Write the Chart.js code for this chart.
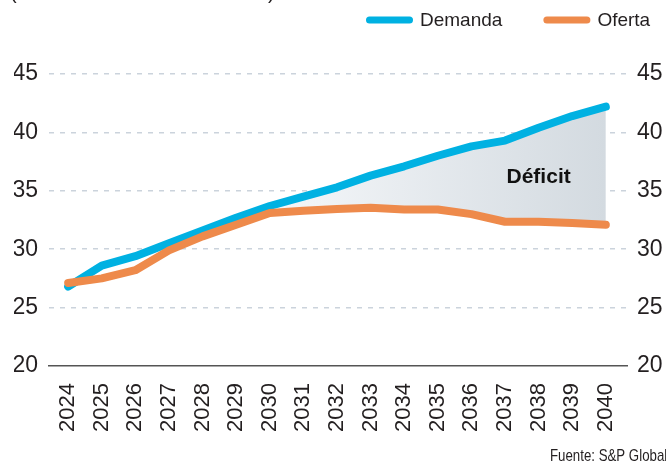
<!DOCTYPE html>
<html lang="es">
<head>
  <meta charset="UTF-8">
  <title>Demanda y oferta</title>
  <script src="https://cdn.jsdelivr.net/npm/chart.js@4.4.1/dist/chart.umd.min.js"></script>
  <style>
    html, body { margin: 0; padding: 0; background: #fff; }
    #wrap { position: relative; width: 666px; height: 467px; overflow: hidden; }
  </style>
</head>
<body>
<div id="wrap"><canvas id="myChart"></canvas></div>

<script>
// datos
const years = [2024, 2025, 2026, 2027, 2028, 2029, 2030, 2031, 2032, 2033, 2034, 2035, 2036, 2037, 2038, 2039, 2040];
const demanda = [26.8, 28.6, 29.4, 30.5, 31.6, 32.7, 33.7, 34.5, 35.3, 36.3, 37.1, 38.0, 38.8, 39.3, 40.4, 41.4, 42.2];
const oferta = [27.1, 27.5, 28.2, 29.9, 31.1, 32.1, 33.1, 33.3, 33.45, 33.55, 33.4, 33.4, 33.0, 32.35, 32.35, 32.25, 32.1];
const yTicks = [20, 25, 30, 35, 40, 45];
const seriesNames = ['Demanda', 'Oferta'];
const seriesColors = ['#00b1e2', '#ee8a4b'];
const deficitLabel = { text: 'Déficit', x: 2038, y: 36.2 };
const source = 'Fuente: S&P Global';

const FONT = '"Liberation Sans", Arial, sans-serif';

// relleno gris que se oscurece hacia la derecha
function deficitFill(context) {
  const chart = context.chart;
  const area = chart.chartArea;
  if (!area) return 'rgba(0,0,0,0)';
  const x = chart.scales.x;
  const g = chart.ctx.createLinearGradient(x.getPixelForValue(2027), 0, x.getPixelForValue(2040), 0);
  g.addColorStop(0, 'rgba(236,240,244,0)');
  g.addColorStop(0.35, 'rgba(240,243,246,1)');
  g.addColorStop(1, 'rgba(211,218,224,1)');
  return g;
}

// leyenda, texto "Deficit" y fuente
const extras = {
  id: 'extras',
  afterDraw(chart) {
    const c = chart.ctx;
    c.save();
    // leyenda arriba a la derecha
    c.font = '19px ' + FONT;
    c.textBaseline = 'middle';
    c.fillStyle = '#231f20';
    let x = 366;
    seriesNames.forEach((name, i) => {
      c.strokeStyle = seriesColors[i];
      c.lineWidth = 7;
      c.lineCap = 'round';
      c.beginPath();
      c.moveTo(x + 3.5, 20);
      c.lineTo(x + 43.5, 20);
      c.stroke();
      c.textAlign = 'left';
      c.fillText(name, x + 54, 21);
      x += 54 + c.measureText(name).width + 41;
    });
    // parentesis cortados arriba
    c.font = '20px ' + FONT;
    c.textBaseline = 'alphabetic';
    c.fillText('(', 10, -1);
    c.fillText(')', 268, -1);
    // deficit
    const sx = chart.scales.x, sy = chart.scales.y;
    c.font = 'bold 21px ' + FONT;
    c.textAlign = 'center';
    c.textBaseline = 'middle';
    c.fillStyle = '#111';
    c.fillText(deficitLabel.text, sx.getPixelForValue(deficitLabel.x), sy.getPixelForValue(deficitLabel.y));
    // fuente (letra estrecha)
    c.font = '17px ' + FONT;
    c.textAlign = 'left';
    c.textBaseline = 'alphabetic';
    c.fillStyle = '#231f20';
    c.translate(550, 461);
    c.scale(0.78, 1);
    c.fillText(source, 0, 0);
    c.restore();
  }
};

const ctx = document.getElementById('myChart').getContext('2d');

const myChart = new Chart(ctx, {
  type: 'line',
  data: {
    datasets: [{
      label: seriesNames[0],
      data: years.map((y, i) => ({ x: y, y: demanda[i] })),
      borderColor: seriesColors[0],
      backgroundColor: deficitFill,
      fill: 1,
      order: 1
    }, {
      label: seriesNames[1],
      data: years.map((y, i) => ({ x: y, y: oferta[i] })),
      borderColor: seriesColors[1],
      backgroundColor: seriesColors[1],
      fill: false,
      order: 0
    }]
  },
  options: {
    responsive: true,
    maintainAspectRatio: false,
    animation: false,
    layout: { padding: { top: 74, left: 14, right: 3, bottom: 35 } },
    elements: {
      line: { borderWidth: 8, borderCapStyle: 'round', borderJoinStyle: 'round', tension: 0 },
      point: { radius: 0, hoverRadius: 0 }
    },
    plugins: {
      legend: { display: false },
      tooltip: { enabled: false }
    },
    scales: {
      x: {
        type: 'linear',
        min: 2023.43,
        max: 2040.63,
        afterBuildTicks: (scale) => { scale.ticks = years.map(v => ({ value: v })); },
        afterFit: (scale) => { scale.paddingLeft = 0; scale.paddingRight = 0; scale.height = 66; },
        grid: { display: false, drawTicks: false },
        border: { display: true, color: '#555', width: 1.5 },
        ticks: {
          minRotation: 90,
          maxRotation: 90,
          padding: 17,
          autoSkip: false,
          color: '#231f20',
          font: { family: FONT, size: 22 },
          callback: (v) => String(v)
        }
      },
      y: {
        position: 'left',
        min: 20,
        max: 45,
        afterBuildTicks: (scale) => { scale.ticks = yTicks.map(v => ({ value: v })); },
        afterFit: (scale) => { scale.width = 35; },
        grid: {
          drawTicks: false,
          lineWidth: 1.5,
          color: (c) => c.tick && c.tick.value === 20 ? 'rgba(0,0,0,0)' : '#cbd3dc'
        },
        border: { display: false, dash: [5, 6] },
        ticks: { padding: 11, color: '#231f20', font: { family: FONT, size: 23 } }
      },
      y2: {
        position: 'right',
        min: 20,
        max: 45,
        afterBuildTicks: (scale) => { scale.ticks = yTicks.map(v => ({ value: v })); },
        afterFit: (scale) => { scale.width = 36; },
        grid: { display: false, drawTicks: false },
        border: { display: false },
        ticks: { padding: 10, color: '#231f20', font: { family: FONT, size: 23 } }
      }
    }
  },
  plugins: [extras]
});
</script>
</body>
</html>
